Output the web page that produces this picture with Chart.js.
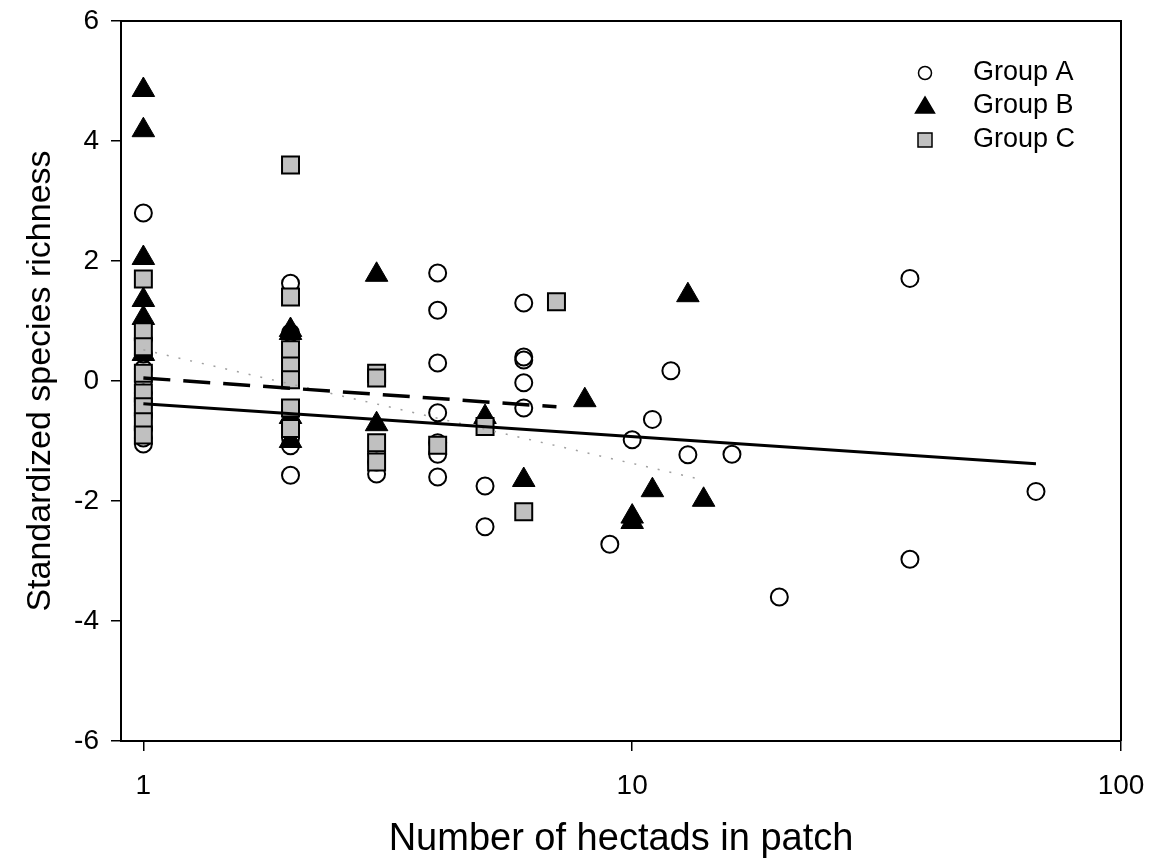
<!DOCTYPE html>
<html>
<head>
<meta charset="utf-8">
<script src="https://cdn.jsdelivr.net/npm/chart.js@4.4.0/dist/chart.umd.min.js"></script>
<style>
html,body{margin:0;padding:0;background:#fff;}
#wrap{width:1152px;height:864px;}
</style>
</head>
<body>
<div id="wrap"><canvas id="chart" width="1152" height="864"></canvas></div>
<script>
// Group A (circles)
const hectadsA=[1,1,1,1,1,1,1,1,1,1,1, 2,2,2,2,2,2,2,2, 3,3,3, 4,4,4,4,4,4,4, 5,5, 6,6,6,6,6, 9,10,11,12,13,16,20,37,37,67];
const richnessA=[2.8,0.7,0.45,0.2,0,-0.2,-0.4,-0.6,-0.8,-0.95,-1.05, 1.63,0.8,0.1,-0.5,-0.75,-0.95,-1.08,-1.57, -1.2,-1.35,-1.55, 1.8,1.18,0.3,-0.53,-1.03,-1.22,-1.6, -1.75,-2.43, 1.3,0.4,0.35,-0.03,-0.45, -2.72,-0.98,-0.64,0.17,-1.23,-1.22,-3.6,1.71,-2.97,-1.84];
// Group B (triangles)
const hectadsB=[1,1,1,1,1,1, 2,2,2,2, 3,3, 5, 6, 8, 10,10, 11, 13, 14];
const richnessB=[4.85,4.18,2.05,1.35,1.05,0.45, 0.85,0.8,-0.6,-1.0, 1.77,-0.72, -0.6, -1.65, -0.32, -2.26,-2.35, -1.82, 1.43, -1.98];
// Group C (squares)
const hectadsC=[1,1,1,1,1,1,1,1, 2,2,2,2,2,2,2, 3,3,3,3, 4, 5, 6, 7];
const richnessC=[1.7,0.82,0.57,0.13,-0.2,-0.43,-0.68,-0.9, 3.6,1.4,0.52,0.25,0.02,-0.45,-0.79, 0.13,0.05,-1.03,-1.35, -1.07, -0.76, -2.18, 1.32];
// fitted lines (end points)
const fitXA=[1,67], fitYA=[-0.38,-1.38];
const fitXB=[1,7], fitYB=[0.05,-0.43];
const fitXC=[1,14], fitYC=[0.52,-1.65];

const groupNames=['Group A','Group B','Group C'];
const xTickValues=[1,10,100];

const pts=(xs,ys)=>xs.map((x,i)=>({x:x,y:ys[i]}));
const FONT='"Liberation Sans", Arial, sans-serif';

const frame={
  id:'frame',
  afterDatasetsDraw(chart){
    const a=chart.chartArea, c=chart.ctx;
    c.save();
    c.strokeStyle='#000'; c.lineWidth=2;
    c.beginPath();
    c.moveTo(a.left,a.top); c.lineTo(a.right,a.top); c.lineTo(a.right,a.bottom);
    c.stroke();
    c.restore();
  }
};

const legendBox={
  id:'legendBox',
  afterDraw(chart){
    const c=chart.ctx;
    const mx=925, tx=973, rows=[73,106,140];
    c.save();
    c.strokeStyle='#000'; c.lineWidth=1.5;
    c.beginPath(); c.arc(mx,rows[0],6.5,0,Math.PI*2); c.fillStyle='#fff'; c.fill(); c.stroke();
    c.beginPath(); c.moveTo(mx,rows[1]-9); c.lineTo(mx+9.5,rows[1]+7); c.lineTo(mx-9.5,rows[1]+7); c.closePath();
    c.fillStyle='#000'; c.fill(); c.stroke();
    c.fillStyle='#c0c0c0'; c.fillRect(mx-7,rows[2]-7,14,14); c.strokeRect(mx-7,rows[2]-7,14,14);
    c.fillStyle='#000'; c.font='27px '+FONT; c.textBaseline='middle'; c.textAlign='left';
    groupNames.forEach((n,i)=>c.fillText(n,tx,rows[i]));
    c.restore();
  }
};

new Chart(document.getElementById('chart'),{
  type:'scatter',
  data:{datasets:[
    {data:pts(fitXA,fitYA),showLine:true,pointRadius:0,borderColor:'#000',borderWidth:3,order:0},
    {data:pts(fitXB,fitYB),showLine:true,pointRadius:0,borderColor:'#000',borderWidth:3.5,borderDash:[27,13],order:0},
    {data:pts(fitXC,fitYC),showLine:true,pointRadius:0,borderColor:'#a0a0a0',borderWidth:1.5,borderDash:[2,10],order:0},
    {label:'Group C',data:pts(hectadsC,richnessC),pointStyle:'rect',pointRadius:12,backgroundColor:'#c0c0c0',borderColor:'#000',borderWidth:2,order:1},
    {label:'Group B',data:pts(hectadsB,richnessB),pointStyle:'triangle',pointRadius:13,backgroundColor:'#000',borderColor:'#000',borderWidth:1,order:2},
    {label:'Group A',data:pts(hectadsA,richnessA),pointStyle:'circle',pointRadius:8.5,backgroundColor:'rgba(0,0,0,0)',borderColor:'#000',borderWidth:2,order:3}
  ]},
  options:{
    responsive:false,animation:false,devicePixelRatio:1,events:[],
    layout:{padding:{top:21,right:31,left:0,bottom:0}},
    plugins:{legend:{display:false},tooltip:{enabled:false}},
    scales:{
      x:{type:'logarithmic',min:0.9,max:100,
        afterBuildTicks:s=>{s.ticks=xTickValues.map(v=>({value:v}));},
        afterFit:s=>{s.height=123;s.paddingLeft=0;s.paddingRight=0;},
        ticks:{autoSkip:false,maxRotation:0,color:'#000',font:{family:FONT,size:28},padding:18,callback:v=>String(v)},
        grid:{drawOnChartArea:false,tickLength:10,color:'#000',lineWidth:1.5},
        border:{color:'#000',width:2},
        title:{display:true,text:'Number of hectads in patch',color:'#000',font:{family:FONT,size:38},padding:{top:0,bottom:2}}
      },
      y:{min:-6,max:6,
        afterFit:s=>{s.width=121;s.paddingTop=0;s.paddingBottom=0;},
        ticks:{stepSize:2,color:'#000',font:{family:FONT,size:28},padding:12},
        grid:{drawOnChartArea:false,tickLength:10,color:'#000',lineWidth:1.5},
        border:{color:'#000',width:2},
        title:{display:true,text:'Standardized species richness',color:'#000',font:{family:FONT,size:34},padding:{top:20,bottom:0}}
      }
    }
  },
  plugins:[frame,legendBox]
});
</script>
</body>
</html>
